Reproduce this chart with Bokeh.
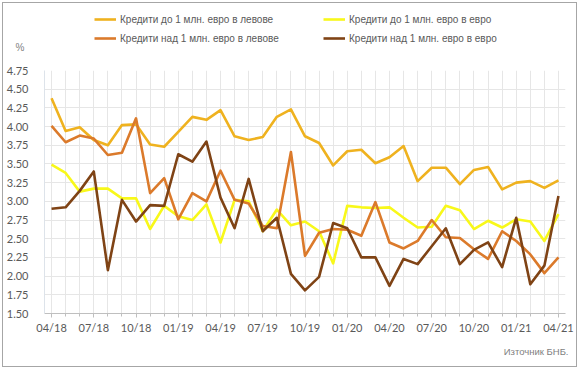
from bokeh.plotting import figure
from bokeh.layouts import column
from bokeh.models import Legend, LegendItem, Title, FixedTicker, Range1d, LinearAxis
from bokeh.embed import file_html
from bokeh.resources import INLINE

months = ["04/18", "05/18", "06/18", "07/18", "08/18", "09/18", "10/18", "11/18", "12/18",
          "01/19", "02/19", "03/19", "04/19", "05/19", "06/19", "07/19", "08/19", "09/19",
          "10/19", "11/19", "12/19", "01/20", "02/20", "03/20", "04/20", "05/20", "06/20",
          "07/20", "08/20", "09/20", "10/20", "11/20", "12/20", "01/21", "02/21", "03/21", "04/21"]
tick_labels = ["04/18", "07/18", "10/18", "01/19", "04/19", "07/19", "10/19",
               "01/20", "04/20", "07/20", "10/20", "01/21", "04/21"]
y_ticks = [1.50, 1.75, 2.00, 2.25, 2.50, 2.75, 3.00, 3.25, 3.50, 3.75, 4.00, 4.25, 4.50, 4.75]

small_bgn = [4.38, 3.94, 3.99, 3.82, 3.75, 4.02, 4.03, 3.76, 3.73, 3.93, 4.13, 4.09, 4.22,
             3.87, 3.82, 3.86, 4.13, 4.23, 3.87, 3.78, 3.48, 3.67, 3.69, 3.51, 3.59, 3.74,
             3.27, 3.45, 3.45, 3.23, 3.42, 3.46, 3.16, 3.25, 3.27, 3.18, 3.28]
small_eur = [3.49, 3.38, 3.13, 3.17, 3.17, 3.04, 3.04, 2.63, 2.94, 2.80, 2.75, 2.96, 2.45,
             3.02, 3.00, 2.60, 2.89, 2.68, 2.73, 2.60, 2.17, 2.94, 2.92, 2.91, 2.92, 2.78,
             2.65, 2.66, 2.94, 2.88, 2.63, 2.74, 2.65, 2.76, 2.73, 2.47, 2.83]
large_bgn = [4.01, 3.79, 3.88, 3.84, 3.62, 3.65, 4.11, 3.11, 3.31, 2.76, 3.11, 3.00, 3.41,
             3.02, 2.97, 2.67, 2.64, 3.66, 2.27, 2.58, 2.63, 2.62, 2.54, 2.99, 2.45, 2.37,
             2.47, 2.75, 2.52, 2.51, 2.36, 2.23, 2.60, 2.47, 2.29, 2.04, 2.25]
large_eur = [2.90, 2.92, 3.14, 3.40, 2.08, 3.02, 2.73, 2.95, 2.94, 3.63, 3.53, 3.80, 3.05,
             2.64, 3.30, 2.60, 2.78, 2.03, 1.81, 1.99, 2.71, 2.64, 2.25, 2.25, 1.87, 2.23,
             2.16, 2.40, 2.64, 2.16, 2.35, 2.45, 2.12, 2.78, 1.89, 2.14, 3.07]

series_names = ["Кредити до 1 млн. евро в левове", "Кредити до 1 млн. евро в евро",
                "Кредити над 1 млн. евро в левове", "Кредити над 1 млн. евро в евро"]
series_values = [small_bgn, small_eur, large_bgn, large_eur]
colors = ["#EFB21F", "#F8F81A", "#DB7A2B", "#7F4315"]
unit_text = "%"
source_text = "Източник БНБ."

x = list(range(len(months)))
nan = float("nan")

# ---------- header strip: legend and unit ----------
top = figure(width=573, height=59, output_backend="svg", toolbar_location=None,
             x_range=Range1d(0, 1), y_range=Range1d(0, 59),
             x_axis_location=None, y_axis_location=None, min_border=0)
top.outline_line_color = None
top.grid.visible = False
top.border_fill_color = "white"
top.background_fill_color = "white"

dummy = [top.line(x=[nan], y=[nan], line_color=c, line_width=2.6) for c in colors]


def make_legend(idx, xloc):
    lg = Legend(items=[LegendItem(label=series_names[i], renderers=[dummy[i]]) for i in idx],
                location=(xloc, 17), orientation="vertical")
    lg.border_line_color = None
    lg.background_fill_alpha = 0
    lg.padding = 0
    lg.margin = 0
    lg.spacing = 5
    lg.glyph_width = 22
    lg.glyph_height = 14
    lg.label_height = 14
    lg.label_standoff = 4
    lg.label_text_font = "Liberation Sans"
    lg.label_text_font_size = "10px"
    lg.label_text_color = "#595959"
    return lg


top.add_layout(make_legend([0, 2], 50))
top.add_layout(make_legend([1, 3], 279))

# unit "%" placed as a single tick label of a header axis
unit_axis = LinearAxis(ticker=FixedTicker(ticks=[15]), major_label_overrides={15: unit_text},
                       major_label_standoff=20, major_label_text_font="Liberation Sans",
                       major_label_text_font_size="10px", major_label_text_color="#7f7f7f",
                       axis_line_color=None, major_tick_line_color=None,
                       minor_tick_line_color=None, major_tick_out=0, minor_tick_out=0)
top.add_layout(unit_axis, "left")

# ---------- main chart ----------
p = figure(width=573, height=304, output_backend="svg", toolbar_location=None,
           x_range=Range1d(-0.5, len(months) - 0.5), y_range=Range1d(1.5, 4.75),
           min_border_left=40, min_border_right=11, min_border_top=8, min_border_bottom=53)
p.outline_line_color = None
p.background_fill_color = "white"
p.border_fill_color = "white"

for vals, col in zip(series_values, colors):
    p.line(x, vals, line_color=col, line_width=2.6, line_join="round")

major_idx = [months.index(t) for t in tick_labels]
p.xaxis.ticker = FixedTicker(ticks=major_idx, minor_ticks=x)
p.xaxis.major_label_overrides = {i: months[i] for i in major_idx}
p.xaxis.axis_line_color = "#bfbfbf"
p.xaxis.major_tick_line_color = "#bfbfbf"
p.xaxis.minor_tick_line_color = "#bfbfbf"
p.xaxis.major_tick_in = 0
p.xaxis.major_tick_out = 4
p.xaxis.minor_tick_in = 0
p.xaxis.minor_tick_out = 3
p.xaxis.major_label_standoff = 3
p.xaxis.major_label_text_font = "Lato"
p.xaxis.major_label_text_font_size = "11px"
p.xaxis.major_label_text_color = "#595959"

p.yaxis.ticker = FixedTicker(ticks=y_ticks)
p.yaxis.major_label_overrides = {t: f"{t:.2f}" for t in y_ticks}
p.yaxis.axis_line_color = "#dde3ea"
p.yaxis.major_tick_line_color = None
p.yaxis.minor_tick_line_color = None
p.yaxis.major_label_standoff = 10
p.yaxis.major_label_text_font = "Lato"
p.yaxis.major_label_text_font_size = "11px"
p.yaxis.major_label_text_color = "#595959"

p.xgrid.ticker = FixedTicker(ticks=x)
p.xgrid.grid_line_color = "#e6e6e6"
p.ygrid.grid_line_color = "#e6e6e6"

src = Title(text=source_text, align="right", standoff=14, offset=-3,
            text_font="Liberation Sans", text_font_size="9.5px",
            text_color="#7f7f7f", text_font_style="normal")
p.add_layout(src, "below")

layout = column(top, p, spacing=0)
layout.styles = {"border": "1px solid #a6a6a6", "margin-left": "2px", "margin-top": "2px"}
open("out.html", "w").write(file_html(layout, INLINE))
